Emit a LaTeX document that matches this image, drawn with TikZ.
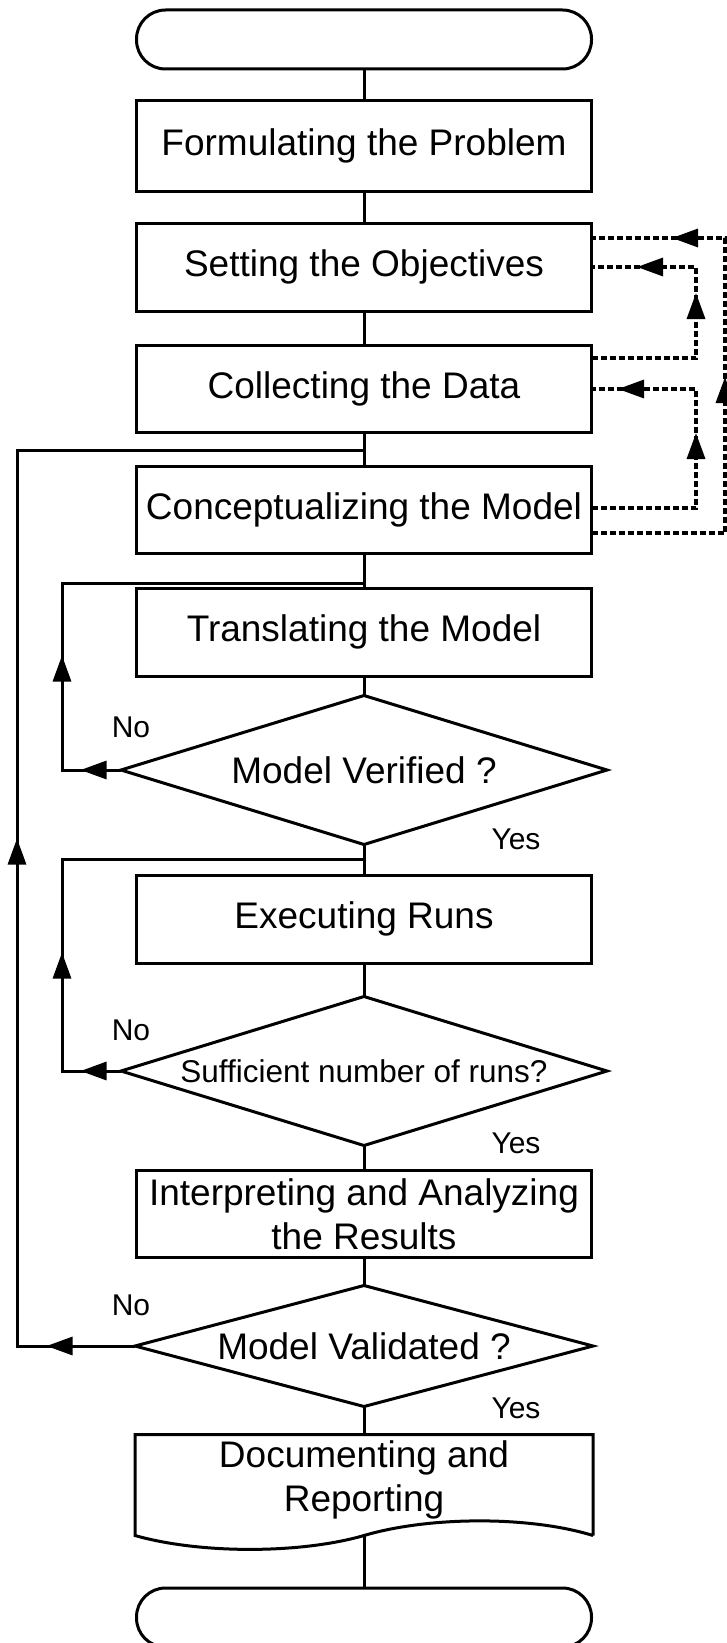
\documentclass[tikz,border=0pt]{standalone}
\usepackage{fontspec}
\setmainfont{Liberation Sans}
\usetikzlibrary{arrows.meta,decorations.markings}
\begin{document}
\begin{tikzpicture}[x=1pt,y=-1pt,line width=3pt,
  >={Triangle[length=26pt,width=18pt]},
  box/.style={draw, rectangle, minimum width=455pt, minimum height=88pt, inner sep=0pt,
    font=\fontsize{37}{43}\selectfont, align=center},
  term/.style={draw, rectangle, rounded corners=29pt, minimum width=455pt, minimum height=59pt, inner sep=0pt},
  decshape/.style={rectangle, inner sep=0pt, font=\fontsize{37}{43}\selectfont},
  lab/.style={inner sep=0pt, font=\fontsize{30}{34}\selectfont},
  dline/.style={line width=3.3pt, dash pattern=on 6pt off 3pt},
  marks/.style={postaction={decorate, decoration={markings, #1}}}
]
\useasboundingbox (0,0) rectangle (727,1643);

% main column
\node[term] (start) at (364,39.5) {};
\node[box, minimum height=90pt] (form) at (364,146) {Formulating the Problem};
\node[box] (set) at (364,267) {Setting the Objectives};
\node[box, minimum height=87pt] (coll) at (364,388.5) {Collecting the Data};
\node[box, minimum height=87pt] (conc) at (364,509.5) {Conceptualizing the Model};
\node[box] (trans) at (364,632) {Translating the Model};
\node[decshape, minimum width=483pt, minimum height=146pt] (verif) at (364,770) {Model Verified ?};
\node[box] (exec) at (364,919) {Executing Runs};
\node[decshape, minimum width=483pt, minimum height=146pt, font=\fontsize{31.5}{36}\selectfont] (suff) at (364,1071) {Sufficient number of runs?};
\node[box, minimum height=87pt, font=\fontsize{37}{44}\selectfont] (interp) at (364,1214) {Interpreting and Analyzing\\the Results};
\node[decshape, minimum width=455pt, minimum height=118pt] (valid) at (364,1346) {Model Validated ?};
\node[rectangle, inner sep=0pt, minimum width=455pt, minimum height=98pt] (doc) at (364,1485) {};
\node[inner sep=0pt, font=\fontsize{37}{44.5}\selectfont, align=center] (doctext) at (364,1480) {Documenting and\\Reporting};
\node[term] (end) at (364,1617.5) {};

% diamonds
\draw (verif.north) -- (verif.east) -- (verif.south) -- (verif.west) -- cycle;
\draw (suff.north) -- (suff.east) -- (suff.south) -- (suff.west) -- cycle;
\draw (valid.north) -- (valid.east) -- (valid.south) -- (valid.west) -- cycle;
% document shape
\draw (doc.south east) -- (doc.north east) -- (doc.north west) -- (doc.south west)
  .. controls (200,1554) and (300,1554) .. (doc.south)
  .. controls (430,1516) and (530,1516) .. (doc.south east);

% labels
\node[lab] (no1) at (131,727) {No};
\node[lab] (yes1) at (516,839) {Yes};
\node[lab] (no2) at (131,1030) {No};
\node[lab] (yes2) at (516,1143) {Yes};
\node[lab] (no3) at (131,1305) {No};
\node[lab] (yes3) at (516,1408) {Yes};

% straight connectors
\draw (start) -- (form);
\draw (form) -- (set);
\draw (set) -- (coll);
\draw (coll) -- (conc);
\draw (conc) -- (trans);
\draw (trans) -- (verif.north);
\draw (verif.south) -- (exec);
\draw (exec) -- (suff.north);
\draw (suff.south) -- (interp);
\draw (interp) -- (valid.north);
\draw (valid.south) -- (doc.north);
\draw (doc.south) -- (end);

% loop coordinates
\coordinate (l1a) at (62,770);
\coordinate (l1b) at (62,583);
\coordinate (j1) at (364,583);
\coordinate (l2a) at (62,1071);
\coordinate (l2b) at (62,859);
\coordinate (j2) at (364,859);
\coordinate (lba) at (17,1346);
\coordinate (lbb) at (17,450);
\coordinate (jb) at (364,450);

\draw[marks={mark=at position 40.5pt with {\arrow{>}}, mark=at position 173.5pt with {\arrow{>}}}]
  (verif.west) -- (l1a) -- (l1b) -- (j1);
\draw[marks={mark=at position 40.5pt with {\arrow{>}}, mark=at position 177.5pt with {\arrow{>}}}]
  (suff.west) -- (l2a) -- (l2b) -- (j2);
\draw[marks={mark=at position 88.5pt with {\arrow{>}}, mark=at position 625.5pt with {\arrow{>}}}]
  (valid.west) -- (lba) -- (lbb) -- (jb);

% dashed feedback
\coordinate (c1) at (591.5,533);
\coordinate (d1a) at (725,533);
\coordinate (d1b) at (725,238);
\coordinate (s1) at (591.5,238);
\coordinate (k1) at (591.5,358);
\coordinate (d2a) at (696,358);
\coordinate (d2b) at (696,267);
\coordinate (s2) at (591.5,267);
\coordinate (c2) at (591.5,508);
\coordinate (d3a) at (696,508);
\coordinate (d3b) at (696,389);
\coordinate (k2) at (591.5,389);

\draw[dline, marks={mark=at position 289.5pt with {\arrow{>}}, mark=at position 481.5pt with {\arrow{>}}}]
  (c1) -- (d1a) -- (d1b) -- (s1);
\draw[dline, marks={mark=at position 169.5pt with {\arrow{>}}, mark=at position 254.5pt with {\arrow{>}}}]
  (k1) -- (d2a) -- (d2b) -- (s2);
\draw[dline, marks={mark=at position 179.5pt with {\arrow{>}}, mark=at position 301.5pt with {\arrow{>}}}]
  (c2) -- (d3a) -- (d3b) -- (k2);
\end{tikzpicture}
\end{document}
